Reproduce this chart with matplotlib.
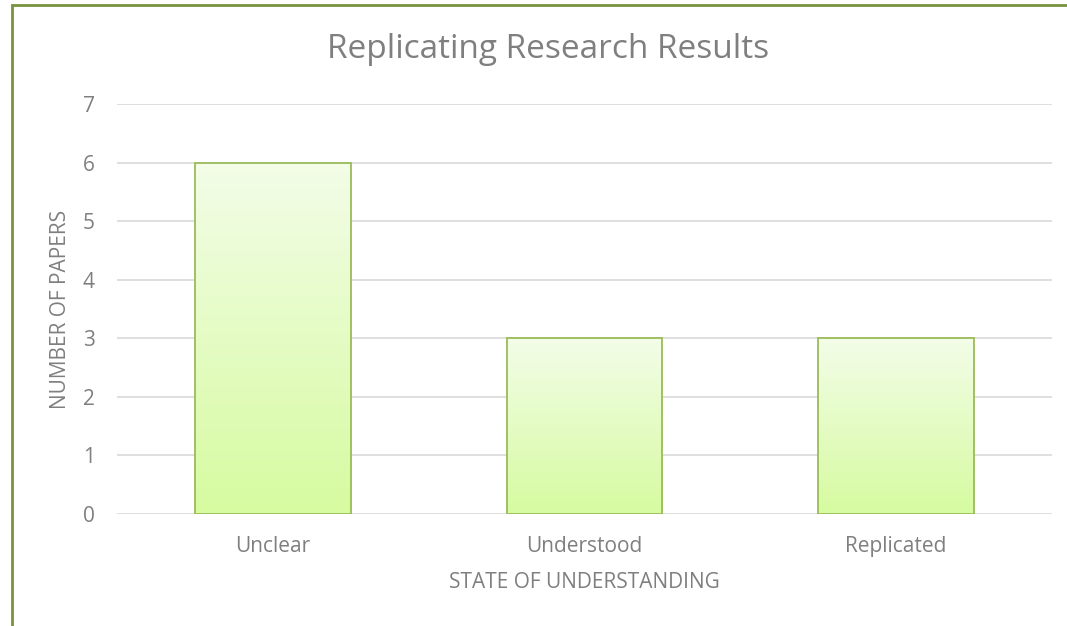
"""
Bar chart: replicating research results
"""

import numpy as np
import matplotlib.pyplot as plt
from matplotlib.patches import Rectangle
from matplotlib.colors import LinearSegmentedColormap

# data
categories = ['Unclear', 'Understood', 'Replicated']
papers = [6, 3, 3]
y_ticks = [0, 1, 2, 3, 4, 5, 6, 7]

grey = '#7F7F7F'
plt.rcParams['font.family'] = ['Open Sans', 'DejaVu Sans']

fig = plt.figure(figsize=(10.67, 6.26), dpi=100)
ax = fig.add_axes([117 / 1067, 1 - 514 / 626, 935 / 1067, 410 / 626])

x = np.arange(len(categories))
bars = ax.bar(x, papers, width=0.5, facecolor='none', edgecolor='#9BBB59',
              linewidth=1.3, zorder=3)

# vertical gradient inside each bar
cmap = LinearSegmentedColormap.from_list('g', ['#D6FBA0', '#F3FDE8'])
grad = np.linspace(0, 1, 256).reshape(-1, 1)
for b in bars:
    x0, y0 = b.get_x(), b.get_y()
    w, h = b.get_width(), b.get_height()
    im = ax.imshow(grad, cmap=cmap, origin='lower', aspect='auto',
                   extent=[x0, x0 + w, y0, y0 + h], zorder=2)
    im.set_clip_path(b)

ax.set_xlim(-0.5, len(categories) - 0.5)
ax.set_ylim(0, 7)
ax.set_yticks(y_ticks)
ax.set_xticks(x)
ax.set_xticklabels(categories)
ax.grid(axis='y', color='#D9D9D9', linewidth=1.2, zorder=0)
ax.set_axisbelow(True)
for s in ax.spines.values():
    s.set_visible(False)
ax.tick_params(length=0, labelsize=15, labelcolor=grey)
ax.tick_params(axis='y', pad=16)
ax.tick_params(axis='x', pad=16)

ax.set_xlabel('STATE OF UNDERSTANDING', fontsize=15, color=grey, va='center')
ax.xaxis.set_label_coords(0.5, -(582 - 514) / 410)
ax.set_ylabel('NUMBER OF PAPERS', fontsize=15, color=grey, va='center')
ax.yaxis.set_label_coords(-(117 - 60) / 935, 0.5)
fig.text(548 / 1067, 1 - 50 / 626, 'Replicating Research Results',
         fontsize=24, color=grey, ha='center', va='center')

# green frame round the chart (runs off the right and bottom edges)
frame = Rectangle((12 / 1067, -0.1), 1.2, 1 - 5 / 626 + 0.1,
                  transform=fig.transFigure, fill=False,
                  edgecolor='#77933C', linewidth=2)
fig.patches.append(frame)

fig.savefig('out.png', dpi=100)
